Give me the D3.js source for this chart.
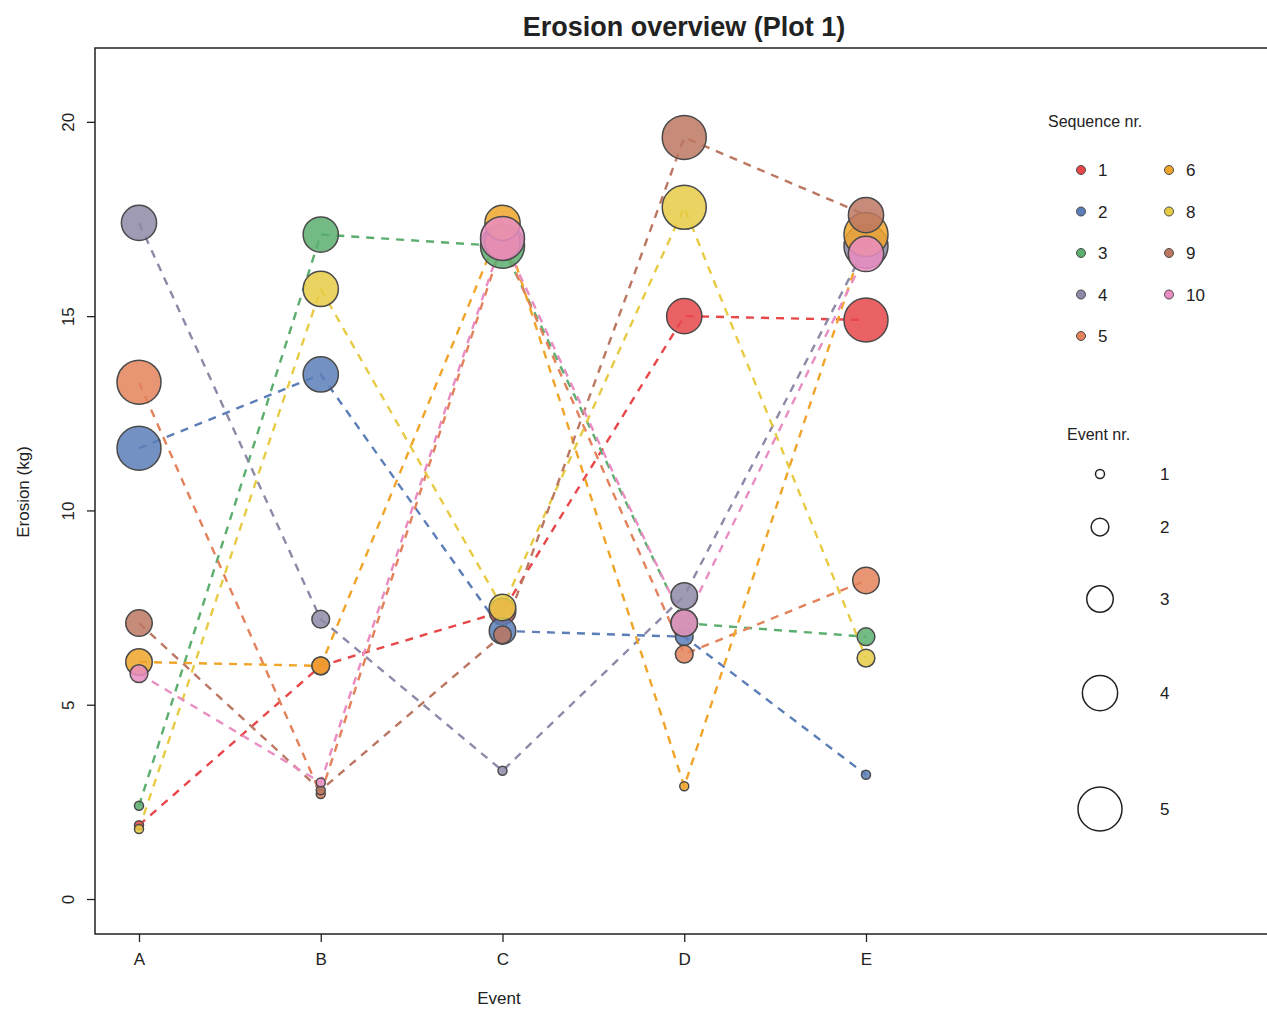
<!DOCTYPE html>
<html lang="en">
<head>
  <meta charset="UTF-8" />
  <title>Erosion overview (Plot 1)</title>
  <script src="https://d3js.org/d3.v7.min.js"></script>
  <style>
    body { margin: 0; background: #fff; }
    svg text { font-family: "Liberation Sans", Arial, sans-serif; fill: #222; }
  </style>
</head>
<body>
  <svg id="chart" width="1267" height="1010"></svg>

  <script>
    // Data
    const events = ["A", "B", "C", "D", "E"];
    const sequences = [1, 2, 3, 4, 5, 6, 8, 9, 10];
    const seqColors = ["#E8474A", "#5B7EB8", "#5BAE6E", "#8E89A8", "#E3825A", "#F0A52A", "#E8CB45", "#BC7762", "#E98DC2"];

    // erosion (kg) per sequence at events A..E
    const erosion = [
      [1.9, 6.0, 7.4, 15.0, 14.9],
      [11.6, 13.5, 6.9, 6.75, 3.2],
      [2.4, 17.1, 16.8, 7.1, 6.75],
      [17.4, 7.2, 3.3, 7.8, 16.8],
      [13.3, 2.7, 16.9, 6.3, 8.2],
      [6.1, 6.0, 17.4, 2.9, 17.1],
      [1.8, 15.7, 7.5, 17.8, 6.2],
      [7.1, 2.8, 6.8, 19.6, 17.6],
      [5.8, 3.0, 17.0, 7.1, 16.6]
    ];
    // event nr (point size) per sequence at events A..E
    const eventNr = [
      [1, 2, 3, 4, 5],
      [5, 4, 3, 2, 1],
      [1, 4, 5, 3, 2],
      [4, 2, 1, 3, 5],
      [5, 1, 4, 2, 3],
      [3, 2, 4, 1, 5],
      [1, 4, 3, 5, 2],
      [3, 1, 2, 5, 4],
      [2, 1, 5, 3, 4]
    ];
    const yTicks = [0, 5, 10, 15, 20];
    const sizeLevels = [1, 2, 3, 4, 5];

    const svg = d3.select("#chart");
    const margin = { top: 48, left: 95, bottom: 934 };

    const x = d3.scalePoint().domain(events).range([139, 866]);
    const y = d3.scaleLinear().domain([-0.9, 21.9]).range([margin.bottom, margin.top]);
    const r = d3.scaleLinear().domain([1, 5]).range([4.5, 22]);
    const color = d3.scaleOrdinal().domain(sequences).range(seqColors);

    const rows = sequences.map((s, i) => ({
      seq: s,
      pts: events.map((e, j) => ({ seq: s, ev: e, val: erosion[i][j], nr: eventNr[i][j] }))
    }));

    // frame
    svg.append("path")
      .attr("d", `M1267,${margin.top}H${margin.left}V${margin.bottom}H1267`)
      .attr("fill", "none")
      .attr("stroke", "#222")
      .attr("stroke-width", 1.5);

    // title
    svg.append("text")
      .attr("x", 684).attr("y", 36)
      .attr("text-anchor", "middle")
      .attr("font-size", 27).attr("font-weight", "bold")
      .text("Erosion overview (Plot 1)");

    // y axis (labels rotated, as in base R)
    const yAxis = svg.append("g")
      .attr("transform", `translate(${margin.left},0)`)
      .call(d3.axisLeft(y).tickValues(yTicks).tickSize(8).tickSizeOuter(0));
    yAxis.select(".domain").remove();
    yAxis.selectAll("line").attr("stroke", "#222").attr("stroke-width", 1.3);
    yAxis.selectAll("text")
      .attr("font-size", 17)
      .attr("x", 0).attr("y", 0)
      .attr("dy", "0.35em")
      .attr("transform", "translate(-27,0) rotate(-90)")
      .attr("text-anchor", "middle");

    // x axis
    const xAxis = svg.append("g")
      .attr("transform", `translate(0,${margin.bottom})`)
      .call(d3.axisBottom(x).tickSize(8).tickSizeOuter(0));
    xAxis.select(".domain").remove();
    xAxis.selectAll("line").attr("stroke", "#222").attr("stroke-width", 1.3);
    xAxis.selectAll("text").attr("font-size", 17).attr("y", 19);

    svg.append("text")
      .attr("x", 499).attr("y", 1004)
      .attr("text-anchor", "middle")
      .attr("font-size", 17)
      .text("Event");

    svg.append("text")
      .attr("transform", "translate(29,492) rotate(-90)")
      .attr("text-anchor", "middle")
      .attr("font-size", 17)
      .text("Erosion (kg)");

    // dashed lines
    const line = d3.line().x(d => x(d.ev)).y(d => y(d.val));
    svg.append("g")
      .selectAll("path")
      .data(rows)
      .join("path")
      .attr("d", d => line(d.pts))
      .attr("fill", "none")
      .attr("stroke", d => color(d.seq))
      .attr("stroke-width", 2.4)
      .attr("stroke-dasharray", "8,7");

    // points
    svg.append("g")
      .selectAll("circle")
      .data(rows.flatMap(d => d.pts))
      .join("circle")
      .attr("cx", d => x(d.ev))
      .attr("cy", d => y(d.val))
      .attr("r", d => r(d.nr))
      .attr("fill", d => color(d.seq))
      .attr("fill-opacity", 0.85)
      .attr("stroke", "#4a4a4a")
      .attr("stroke-width", 1.5);

    // legend: sequence nr.
    const leg = svg.append("g");
    leg.append("text")
      .attr("x", 1048).attr("y", 127)
      .attr("font-size", 16)
      .text("Sequence nr.");
    const legItems = leg.selectAll("g.item")
      .data(sequences)
      .join("g")
      .attr("class", "item")
      .attr("transform", (d, i) => {
        const col = i < 5 ? 0 : 1;
        const row = i < 5 ? i : i - 5;
        return `translate(${1081 + col * 88},${170 + row * 41.5})`;
      });
    legItems.append("circle")
      .attr("r", 4.5)
      .attr("fill", d => color(d))
      .attr("stroke", "#4a4a4a")
      .attr("stroke-width", 1);
    legItems.append("text")
      .attr("x", 17).attr("y", 6)
      .attr("font-size", 17)
      .text(d => d);

    // legend: event nr.
    const sizeY = [474, 527, 599, 693, 809];
    leg.append("text")
      .attr("x", 1067).attr("y", 440)
      .attr("font-size", 16)
      .text("Event nr.");
    const sizeItems = leg.selectAll("g.size")
      .data(sizeLevels)
      .join("g")
      .attr("class", "size")
      .attr("transform", (d, i) => `translate(1100,${sizeY[i]})`);
    sizeItems.append("circle")
      .attr("r", d => r(d))
      .attr("fill", "none")
      .attr("stroke", "#222")
      .attr("stroke-width", 1.5);
    sizeItems.append("text")
      .attr("x", 60).attr("y", 6)
      .attr("font-size", 17)
      .text(d => d);
  </script>
</body>
</html>
